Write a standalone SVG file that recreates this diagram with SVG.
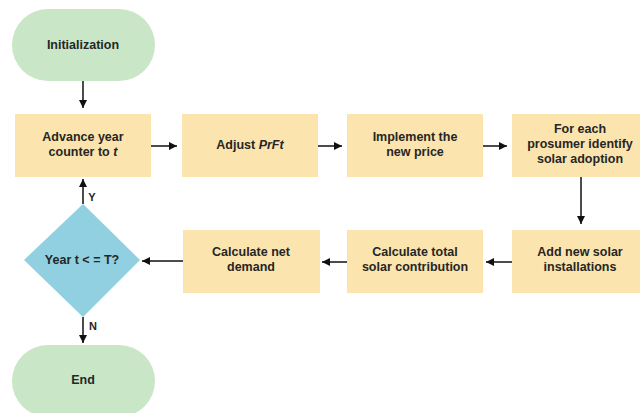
<svg xmlns="http://www.w3.org/2000/svg" width="640" height="413" viewBox="0 0 640 413">
<style>
.t{font-family:"Liberation Sans",Arial,sans-serif;font-weight:bold;font-size:12.5px;fill:#262626;text-anchor:middle}
.box{fill:#fbe4ad}
.term{fill:#c9e6c6}
.dia{fill:#90d0e0}
.c line{stroke:#111;stroke-width:1.5;marker-end:url(#ah)}
</style>
<defs>
<marker id="ah" viewBox="0 0 10 10" refX="10" refY="5" markerWidth="8" markerHeight="8" markerUnits="userSpaceOnUse" orient="auto">
<path d="M0,0 L10,5 L0,10 z" fill="#111"/>
</marker>
</defs>
<rect width="640" height="413" fill="#fff"/>
<g id="init"><rect class="term" x="12" y="9" width="143" height="72" rx="36" ry="36"/><text class="t" x="83" y="49">Initialization</text></g>
<g id="advance"><rect class="box" x="15" y="114" width="136" height="63"/><text class="t" x="83" y="141">Advance year</text><text class="t" x="83" y="156">counter to <tspan font-style="italic">t</tspan></text></g>
<g id="adjust"><rect class="box" x="182" y="114" width="136" height="63"/><text class="t" x="250" y="149">Adjust <tspan font-style="italic">PrFt</tspan></text></g>
<g id="implement"><rect class="box" x="347" y="114" width="136" height="63"/><text class="t" x="415" y="141">Implement the</text><text class="t" x="415" y="156">new price</text></g>
<g id="foreach"><rect class="box" x="512" y="114" width="136" height="63"/><text class="t" x="580" y="133">For each</text><text class="t" x="580" y="148">prosumer identify</text><text class="t" x="580" y="163">solar adoption</text></g>
<g id="addnew"><rect class="box" x="512" y="230" width="136" height="63"/><text class="t" x="580" y="256">Add new solar</text><text class="t" x="580" y="271">installations</text></g>
<g id="total"><rect class="box" x="347" y="230" width="136" height="63"/><text class="t" x="415" y="256">Calculate total</text><text class="t" x="415" y="271">solar contribution</text></g>
<g id="net"><rect class="box" x="183" y="230" width="137" height="63"/><text class="t" x="251" y="256">Calculate net</text><text class="t" x="251" y="271">demand</text></g>
<g id="decision"><polygon class="dia" points="83,204 140,260 83,317 24,260"/><text class="t" x="82" y="264">Year t &lt; = T?</text></g>
<g id="end"><rect class="term" x="12" y="345" width="143" height="72" rx="36" ry="36"/><text class="t" x="83" y="384">End</text></g>
<g class="c" id="connectors">
<line x1="83" y1="81" x2="83" y2="108"/>
<line x1="151" y1="146" x2="177" y2="146"/>
<line x1="318" y1="146" x2="342" y2="146"/>
<line x1="483" y1="146" x2="507" y2="146"/>
<line x1="581" y1="177" x2="581" y2="224"/>
<line x1="512" y1="262" x2="486" y2="262"/>
<line x1="347" y1="262" x2="322" y2="262"/>
<line x1="183" y1="261" x2="142" y2="261"/>
<line x1="83" y1="204" x2="83" y2="179"/>
<line x1="83" y1="317" x2="83" y2="343"/>
</g>
<text class="t" x="92" y="201" style="font-size:11px">Y</text>
<text class="t" x="93" y="330" style="font-size:11px">N</text>
</svg>
